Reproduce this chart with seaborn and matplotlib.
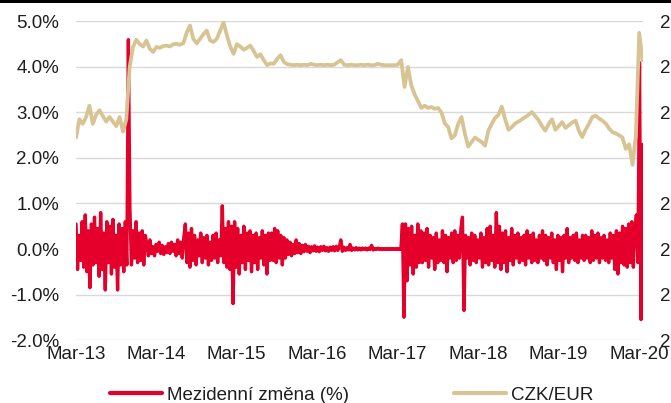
import matplotlib
matplotlib.use("Agg")
import matplotlib.pyplot as plt
import matplotlib.dates as mdates
from matplotlib.ticker import PercentFormatter, FixedLocator
from matplotlib.lines import Line2D
from matplotlib.patches import Rectangle
import seaborn as sns
import pandas as pd

# CZK/EUR kurz, hodnoty odecteny zhruba po pul mesici (Mar-13 .. Mar-20)
czk_eur = [
    25.45, 25.85, 25.75, 25.9, 26.15, 25.75, 25.95, 26.05, 25.92, 25.8, 25.9, 25.8,
    25.7, 25.9, 25.58, 25.85, 27.0, 27.44, 27.6, 27.5, 27.45, 27.58, 27.4, 27.33,
    27.44, 27.42, 27.46, 27.47, 27.45, 27.5, 27.51, 27.49, 27.52, 27.75, 27.91, 27.62,
    27.52, 27.62, 27.72, 27.8, 27.58, 27.55, 27.62, 27.8, 27.98, 27.7, 27.45, 27.29,
    27.5, 27.45, 27.38, 27.42, 27.47, 27.35, 27.22, 27.28, 27.15, 27.04, 27.08, 27.07,
    27.18, 27.26, 27.11, 27.06, 27.05, 27.04, 27.05, 27.04, 27.05, 27.04, 27.07, 27.05,
    27.04, 27.05, 27.04, 27.05, 27.04, 27.05, 27.1, 27.15, 27.05, 27.04, 27.05, 27.04,
    27.04, 27.05, 27.04, 27.05, 27.04, 27.04, 27.07, 27.05, 27.04, 27.04, 27.04, 27.04,
    27.05, 27.15, 26.56, 27.0, 26.6, 26.4, 26.25, 26.1, 26.15, 26.1, 26.12, 26.08,
    26.1, 26.0, 25.76, 25.68, 25.43, 25.5, 25.75, 25.9, 25.53, 25.25, 25.35, 25.45,
    25.4, 25.35, 25.27, 25.6, 25.75, 25.88, 25.95, 26.13, 25.85, 25.62, 25.68, 25.76,
    25.8, 25.85, 25.9, 25.95, 26.01, 25.92, 25.83, 25.7, 25.6, 25.75, 25.85, 25.62,
    25.7, 25.79, 25.66, 25.72, 25.78, 25.82, 25.6, 25.46, 25.62, 25.75, 25.9, 25.93,
    25.87, 25.82, 25.76, 25.65, 25.57, 25.54, 25.5, 25.45, 25.2, 25.3, 24.85, 25.5,
    27.75, 27.15,
]

# mezidenni zmena v %, zhruba tydenni body
change_2013 = [0.55, -0.45, 0.3, -0.25, 0.6, -0.4, 0.75, -0.5, 0.4, -0.85, 0.55, -0.35,
               0.7, -0.3, 0.45, -0.6, 0.8, -0.45, 0.35, -0.9, 0.6, -0.3, 0.5, -0.55,
               0.65, -0.4, 0.3, -0.9, 0.55, -0.35, 0.45, -0.5, 0.6, -0.35]
change_intervention = [4.6]
change_2014 = [0.9, -0.35, 0.4, -0.2, 0.6, -0.3, 0.35, -0.25, 0.4, -0.35, 0.3,
               0.1, -0.15, 0.2, -0.1, 0.05, -0.15, 0.1, -0.05, 0.15, -0.1, 0.08, -0.12,
               0.05, -0.08, 0.12, -0.1, 0.15, -0.05, 0.1, -0.15, 0.2, -0.1, 0.15, -0.2, 0.25,
               0.55, -0.3, 0.35, -0.4, 0.45, -0.25, 0.3, -0.35, 0.2, -0.15, 0.35, -0.3,
               0.25, -0.2, 0.3, -0.35, 0.15, -0.25, 0.3, -0.2, 0.35, -0.3, 0.2, -0.15]
change_2015 = [0.95, -0.3, 0.45, -0.4, 0.6, -0.45, 0.5, -1.2,
               0.6, -0.4, 0.45, -0.55, 0.3, -0.3, 0.5, -0.45, 0.35, -0.25, 0.4, -0.5,
               0.3, -0.3, 0.35, -0.45, 0.25, -0.2, 0.4, -0.35, 0.3, -0.55, 0.35, -0.25,
               0.35, -0.25, 0.45, -0.3, 0.4, -0.2, 0.3, -0.35, 0.25, -0.2,
               0.2, -0.12, 0.15, -0.15, 0.1, -0.1, 0.2, -0.08, 0.12, -0.1]
change_floor = [0.08, -0.06, 0.1, -0.05, 0.06, -0.08, 0.05, -0.04, 0.07, -0.05, 0.04, -0.06,
                0.05, -0.03, 0.06, -0.04, 0.03, -0.05, 0.04, -0.03, 0.05, -0.04, 0.06, -0.03,
                0.04, 0.2, -0.05, 0.04, -0.03, 0.03, -0.02, 0.1, -0.03, 0.02, -0.02, 0.03,
                -0.02, 0.02, -0.02, 0.02, -0.01, 0.02, -0.02, 0.02, -0.01, 0.08, -0.02, 0.01,
                -0.01, 0.02, -0.01, 0.01, -0.01, 0.01, -0.01, 0.01, -0.01, 0.01, -0.01, 0.01,
                -0.01, 0.01, -0.01, 0.01, -0.01]
change_2017 = [0.55, -1.5, 0.55, -0.7, 0.45, -0.35, 0.5, -0.55, 0.3, -0.4, 0.55, -0.3, 0.4,
               -0.3, 0.35, -0.25, 0.45, -0.4, 0.3, -0.2, 0.25, -0.45, 0.35, -0.3, 0.2,
               -0.25, 0.4, -0.3, 0.3, -0.5, 0.25, -0.2, 0.35, -0.3, 0.4, -0.25, 0.3, -0.2, 0.45,
               0.7, -1.35]
change_2018 = [0.3, -0.2, 0.25, -0.35, 0.35, -0.25, 0.3, -0.3, 0.2, -0.2, 0.35, -0.4,
               0.25, -0.3, 0.45, -0.35, 0.5, -0.25, 0.3, -0.4, 0.8,
               -0.3, 0.5, -0.45, 0.35, -0.3, 0.4, -0.5, 0.25, -0.25, 0.45, -0.35, 0.3,
               -0.2, 0.35, -0.3, 0.25, -0.25, 0.3, -0.35, 0.4, -0.2, 0.3, -0.3, 0.35,
               -0.25, 0.2, -0.3]
change_2019 = [0.3, -0.2, 0.4, -0.25, 0.3, -0.35, 0.25, -0.2, 0.35, -0.3, 0.2, -0.45,
               0.3, -0.25, 0.25, -0.5, 0.3, -0.2, 0.45, -0.3, 0.25, -0.2, 0.3, -0.25,
               0.35, -0.3, 0.2, -0.2, 0.3, -0.25,
               0.3, -0.2, 0.25, -0.3, 0.4, -0.25, 0.3, -0.2, 0.35, -0.3, 0.25, -0.2,
               0.3, -0.25, 0.2, -0.3, 0.35, -0.2, 0.3, -0.45, 0.4, -0.55, 0.35, -0.3,
               0.5, -0.35, 0.45, -0.4, 0.55, -0.3, 0.6, -0.4, 0.5]
change_2020 = [0.75, -0.3, 4.1, -1.55, 2.3]

red_change = (change_2013 + change_intervention + change_2014 + change_2015 +
              change_floor + change_2017 + change_2018 + change_2019 + change_2020)

y_ticks = [-2, -1, 0, 1, 2, 3, 4, 5]
czk_ticks = [21, 22, 23, 24, 25, 26, 27, 28]
year_ticks = ["2013-03-01", "2014-03-01", "2015-03-01", "2016-03-01",
              "2017-03-01", "2018-03-01", "2019-03-01", "2020-03-01"]

start, end = "2013-03-01", "2020-03-18"
red_dates = pd.date_range(start, end, periods=len(red_change))
czk_dates = pd.date_range(start, end, periods=len(czk_eur))

RED = "#E4002B"
TAN = "#D8C393"
TXT = "#1E1E1E"

sns.set_theme(style="white")
plt.rcParams["font.family"] = ["Liberation Sans", "DejaVu Sans"]
plt.rcParams["axes.unicode_minus"] = False

fig = plt.figure(figsize=(6.71, 4.03), dpi=100)
ax = fig.add_axes([0.1133, 0.1563, 0.845, 0.7904])

sns.lineplot(x=red_dates, y=red_change, ax=ax, color=RED, lw=2.4, legend=False)

ax2 = ax.twinx()
sns.lineplot(x=czk_dates, y=czk_eur, ax=ax2, color=TAN, lw=2.7, legend=False)

ax.set_ylim(-2, 5)
ax2.set_ylim(21, 28)
ax.set_xlim(pd.Timestamp("2013-03-01"), pd.Timestamp("2020-03-20"))

ax.yaxis.set_major_locator(FixedLocator(y_ticks))
ax.yaxis.set_major_formatter(PercentFormatter(xmax=100, decimals=1))
ax2.yaxis.set_major_locator(FixedLocator(czk_ticks))
ax2.set_yticklabels([str(t) for t in czk_ticks])

ax.xaxis.set_major_locator(FixedLocator(mdates.date2num(pd.to_datetime(year_ticks))))
ax.xaxis.set_major_formatter(mdates.DateFormatter("%b-%y"))

ax.grid(axis="y", color="#D9D9D9", lw=1.0)
ax.grid(axis="x", visible=False)
ax2.grid(False)
for a in (ax, ax2):
    for s in a.spines.values():
        s.set_visible(False)
    a.set_xlabel("")
    a.set_ylabel("")

ax.tick_params(axis="y", length=0, pad=12, labelsize=13.5, labelcolor=TXT)
ax.tick_params(axis="x", length=0, pad=4, labelsize=13.5, labelcolor=TXT)
ax2.tick_params(axis="y", length=0, pad=12, labelsize=13.5, labelcolor=TXT)

handles = [Line2D([], [], color=RED, lw=3), Line2D([], [], color=TAN, lw=3)]
fig.legend(handles, ["Mezidenní změna (%)", "CZK/EUR"], loc="center",
           bbox_to_anchor=(0.524, 0.02), ncol=2, frameon=False, fontsize=13.5,
           handlelength=2.8, handletextpad=0.25, columnspacing=5.6, labelcolor=TXT)

fig.add_artist(Rectangle((0, 1 - 3 / 403), 1, 3 / 403, transform=fig.transFigure,
                         color="black", lw=0))

fig.savefig("out.png", dpi=100)
